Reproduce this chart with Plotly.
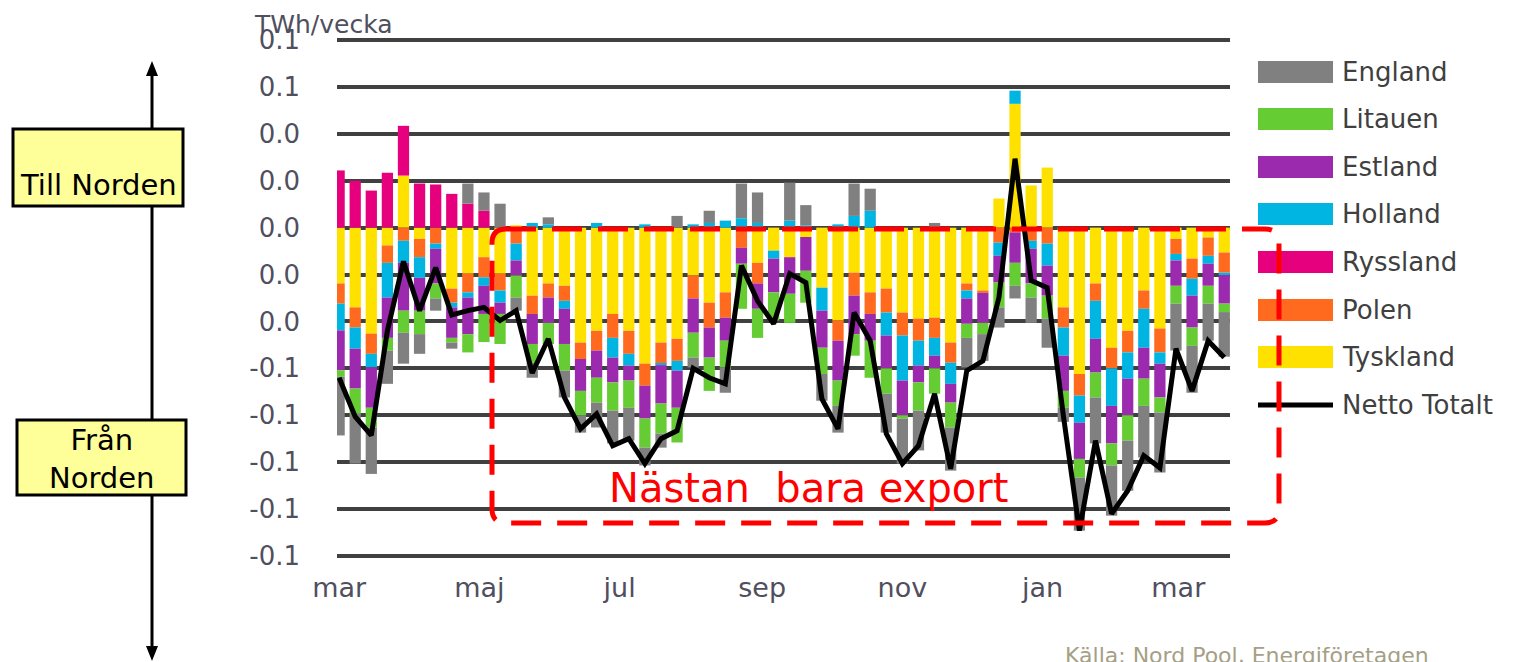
import plotly.graph_objects as go
import pandas as pd

# ---------------- data (TWh per week) ----------------
weeks = pd.date_range("2022-03-01", periods=56, freq="7D")

tyskland = [-0.0238, -0.0340, -0.0452, -0.0076, 0.0222, -0.0048, 0.0000, -0.0260, -0.0196, -0.0126,
            -0.0196, 0.0010, -0.0290, -0.0238, -0.0248, -0.0490, -0.0440, -0.0368, -0.0440, -0.0580,
            -0.0490, -0.0474, -0.0204, -0.0320, -0.0276, 0.0000, -0.0150, -0.0098, -0.0126, -0.0040,
            -0.0256, -0.0396, -0.0192, -0.0276, -0.0260, -0.0362, -0.0388, -0.0384, -0.0490, -0.0238,
            -0.0268, 0.0124, 0.0528, 0.0180, 0.0256, -0.0340, -0.0624, -0.0238, -0.0512, -0.0440,
            -0.0268, -0.0430, -0.0048, -0.0132, -0.0042, -0.0106]
polen = [-0.0086, -0.0086, -0.0086, -0.0074, -0.0056, -0.0078, -0.0068, -0.0060, -0.0080, -0.0086,
         -0.0072, -0.0068, -0.0078, -0.0060, -0.0064, -0.0070, -0.0084, -0.0102, -0.0098, -0.0094,
         -0.0090, -0.0094, -0.0098, -0.0106, -0.0108, -0.0086, -0.0088, 0.0000, 0.0000, 0.0000,
         0.0000, -0.0086, -0.0098, -0.0092, -0.0102, -0.0098, -0.0094, -0.0086, -0.0086, -0.0030,
         -0.0010, -0.0064, -0.0020, -0.0056, -0.0068, -0.0086, -0.0092, -0.0074, -0.0088, -0.0092,
         -0.0078, -0.0102, -0.0064, -0.0086, -0.0078, -0.0086]
ryssland = [0.0244, 0.0200, 0.0158, 0.0234, 0.0212, 0.0188, 0.0184, 0.0144, 0.0102, 0.0072,
            0.0, 0.0, 0.0, 0.0, 0.0, 0.0, 0.0, 0.0, 0.0, 0.0,
            0.0, 0.0, 0.0, 0.0, 0.0, 0.0, 0.0, 0.0, 0.0, 0.0,
            0.0, 0.0, 0.0, 0.0, 0.0, 0.0, 0.0, 0.0, 0.0, 0.0,
            0.0, 0.0, 0.0, 0.0, 0.0, 0.0, 0.0, 0.0, 0.0, 0.0,
            0.0, 0.0, 0.0, 0.0, 0.0, 0.0]
holland = [-0.0114, -0.0090, -0.0058, -0.0148, -0.0094, -0.0088, -0.0022, -0.0020, -0.0022, -0.0036,
           -0.0052, -0.0072, 0.0020, 0.0014, -0.0034, 0.0000, 0.0020, -0.0084, -0.0050, 0.0014,
           -0.0006, -0.0042, 0.0014, 0.0020, 0.0030, 0.0040, 0.0020, -0.0034, 0.0030, 0.0010,
           -0.0098, 0.0014, 0.0050, 0.0072, -0.0098, -0.0192, -0.0106, -0.0076, -0.0090, -0.0034,
           0.0000, -0.0056, 0.0056, -0.0034, -0.0094, -0.0120, -0.0116, -0.0162, -0.0160, -0.0112,
           -0.0166, -0.0048, -0.0028, -0.0072, -0.0034, -0.0010]
estland = [-0.0170, -0.0170, -0.0172, -0.0172, -0.0204, -0.0140, -0.0148, -0.0130, -0.0156, -0.0120,
           -0.0048, -0.0064, -0.0128, -0.0108, -0.0150, -0.0136, -0.0116, -0.0106, -0.0064, -0.0140,
           -0.0164, -0.0158, -0.0146, -0.0128, -0.0098, -0.0068, -0.0108, -0.0144, -0.0156, -0.0144,
           -0.0158, -0.0170, -0.0164, -0.0114, -0.0140, -0.0148, -0.0072, -0.0054, -0.0080, -0.0108,
           -0.0128, -0.0114, -0.0130, -0.0148, -0.0128, -0.0150, -0.0154, -0.0144, -0.0160, -0.0156,
           -0.0132, -0.0144, -0.0108, -0.0136, -0.0094, -0.0122]
litauen = [-0.0028, -0.0108, -0.0084, -0.0054, -0.0094, -0.0100, -0.0064, -0.0020, -0.0078, -0.0120,
           -0.0128, -0.0094, -0.0080, -0.0090, -0.0114, -0.0104, -0.0106, -0.0120, -0.0116, -0.0124,
           -0.0128, -0.0148, -0.0106, -0.0142, -0.0114, -0.0192, -0.0124, -0.0120, -0.0124, -0.0136,
           -0.0112, -0.0108, -0.0092, -0.0158, -0.0108, -0.0014, -0.0120, -0.0108, -0.0106, -0.0060,
           -0.0048, -0.0106, -0.0098, -0.0060, -0.0098, -0.0072, -0.0080, -0.0106, -0.0094, -0.0108,
           -0.0116, -0.0064, -0.0076, -0.0078, -0.0076, -0.0036]
england = [-0.0250, -0.0212, -0.0198, -0.0142, -0.0132, -0.0084, -0.0052, -0.0026, 0.0086, 0.0078,
           0.0102, -0.0056, -0.0064, 0.0030, -0.0114, -0.0074, -0.0106, -0.0140, -0.0140, -0.0076,
           -0.0060, 0.0050, -0.0042, 0.0052, -0.0108, 0.0148, 0.0130, 0.0000, 0.0162, 0.0086,
           -0.0114, -0.0114, 0.0138, 0.0094, -0.0166, -0.0192, -0.0170, 0.0020, -0.0184, -0.0126,
           -0.0114, -0.0086, -0.0054, -0.0108, -0.0124, -0.0060, -0.0226, -0.0196, -0.0214, -0.0214,
           -0.0220, -0.0256, -0.0200, -0.0200, -0.0158, -0.0190]
netto = [-0.0640, -0.0806, -0.0886, -0.0440, -0.0144, -0.0354, -0.0170, -0.0372, -0.0354, -0.0340,
         -0.0396, -0.0354, -0.0620, -0.0474, -0.0724, -0.0858, -0.0794, -0.0930, -0.0900, -0.1006,
         -0.0900, -0.0866, -0.0600, -0.0640, -0.0666, -0.0162, -0.0312, -0.0410, -0.0196, -0.0234,
         -0.0730, -0.0858, -0.0362, -0.0482, -0.0878, -0.1006, -0.0930, -0.0708, -0.1028, -0.0610,
         -0.0568, -0.0298, 0.0294, -0.0226, -0.0256, -0.0800, -0.1292, -0.0908, -0.1220, -0.1122,
         -0.0972, -0.1024, -0.0516, -0.0696, -0.0482, -0.0554]

series_names = ["Tyskland", "Polen", "Ryssland", "Holland", "Estland", "Litauen", "England"]
series_values = [tyskland, polen, ryssland, holland, estland, litauen, england]
series_colors = ["#FFE100", "#FF6A1F", "#E6007E", "#00B5E2", "#9B2AAF", "#66CC33", "#808080"]
legend_order = ["England", "Litauen", "Estland", "Holland", "Ryssland", "Polen", "Tyskland"]

y_tick_vals = [-0.14, -0.12, -0.10, -0.08, -0.06, -0.04, -0.02, 0.0, 0.02, 0.04, 0.06, 0.08]
y_tick_text = ["-0.1", "-0.1", "-0.1", "-0.1", "-0.1", "0.0", "0.0", "0.0", "0.0", "0.0", "0.1", "0.1"]
x_tick_vals = ["2022-03-01", "2022-05-01", "2022-07-01", "2022-09-01", "2022-11-01", "2023-01-01", "2023-03-01"]
x_tick_text = ["mar", "maj", "jul", "sep", "nov", "jan", "mar"]

# ---------------- geometry (page pixels; page body has an 8px margin) ----------------
PAGE_W, PAGE_H = 1537, 662
OFF = 8
W, H = PAGE_W - OFF, PAGE_H - OFF
GRID_TOP_PX, GRID_BOT_PX = 40, 556          # page y of the 0.08 and -0.14 grid lines
L, R, T, B = 337, 1230, 36, 560               # plot area on the page
ppu = (GRID_BOT_PX - GRID_TOP_PX) / (y_tick_vals[-1] - y_tick_vals[0])
y_range = [y_tick_vals[0] - (B - GRID_BOT_PX) / ppu, y_tick_vals[-1] + (GRID_TOP_PX - T) / ppu]


def px(x):
    return (x - L) / (R - L)


def py(y):
    return (B - y) / (B - T)


TXT = "#4F4F5E"
FONT = "DejaVu Sans"

fig = go.Figure()
for name, vals, col in zip(series_names, series_values, series_colors):
    fig.add_trace(go.Bar(x=weeks, y=vals, name=name, marker=dict(color=col, line=dict(width=0)),
                         showlegend=False, hoverinfo="skip"))
fig.add_trace(go.Scatter(x=weeks, y=netto, name="Netto Totalt", mode="lines",
                         line=dict(color="black", width=5), showlegend=False, hoverinfo="skip"))

x_start = weeks[0] - pd.Timedelta(hours=22)
x_end = weeks[-1] + pd.Timedelta(hours=60)

fig.update_layout(
    width=W, height=H,
    margin=dict(l=L - OFF, r=PAGE_W - R, t=T - OFF, b=PAGE_H - B, pad=0),
    paper_bgcolor="white", plot_bgcolor="white",
    barmode="relative", bargap=0.3,
    showlegend=False,
    font=dict(family=FONT, color=TXT),
    xaxis=dict(type="date", range=[x_start, x_end], tickvals=x_tick_vals, ticktext=x_tick_text,
               showgrid=False, zeroline=False, showline=False, ticks="", automargin=False,
               tickfont=dict(size=27, color=TXT, family=FONT), ticklabelstandoff=9),
    yaxis=dict(range=y_range, tickvals=y_tick_vals, ticktext=y_tick_text,
               showgrid=True, gridcolor="#404040", gridwidth=4, zeroline=False, showline=False,
               ticks="", automargin=False, tickfont=dict(size=26, color=TXT, family=FONT),
               ticklabelstandoff=36),
)

shapes = []
annotations = []

# custom legend
legend_y = [72, 119, 167, 214, 262, 310, 357]
color_of = dict(zip(series_names, series_colors))
for name, yy in zip(legend_order, legend_y):
    shapes.append(dict(type="rect", xref="paper", yref="paper", x0=px(1258), x1=px(1333),
                       y0=py(yy + 11), y1=py(yy - 11), fillcolor=color_of[name], line=dict(width=0)))
    annotations.append(dict(text=name, xref="paper", yref="paper", x=px(1340), y=py(yy),
                            xanchor="left", yanchor="middle", showarrow=False,
                            font=dict(size=26, color="#404040", family=FONT)))
shapes.append(dict(type="line", xref="paper", yref="paper", x0=px(1258), x1=px(1333),
                   y0=py(405), y1=py(405), line=dict(color="black", width=5)))
annotations.append(dict(text="Netto Totalt", xref="paper", yref="paper", x=px(1340), y=py(405),
                        xanchor="left", yanchor="middle", showarrow=False,
                        font=dict(size=26, color="#404040", family=FONT)))

# red dashed rounded box
bx0, bx1, by0, by1, rr = 492, 1279, 229, 523, 14
pts = (f"M {px(bx0 + rr)},{py(by0)} L {px(bx1 - rr)},{py(by0)} "
       f"Q {px(bx1)},{py(by0)} {px(bx1)},{py(by0 + rr)} L {px(bx1)},{py(by1 - rr)} "
       f"Q {px(bx1)},{py(by1)} {px(bx1 - rr)},{py(by1)} L {px(bx0 + rr)},{py(by1)} "
       f"Q {px(bx0)},{py(by1)} {px(bx0)},{py(by1 - rr)} L {px(bx0)},{py(by0 + rr)} "
       f"Q {px(bx0)},{py(by0)} {px(bx0 + rr)},{py(by0)} Z")
shapes.append(dict(type="path", xref="paper", yref="paper", path=pts,
                   line=dict(color="#FF0000", width=5, dash="30px,16px")))
annotations.append(dict(text="Nästan  bara export", xref="paper", yref="paper", x=px(808), y=py(488),
                        xanchor="center", yanchor="middle", showarrow=False,
                        font=dict(size=40, color="#FF0000", family=FONT)))

# left double arrow and boxes
ax_x = 152
shapes.append(dict(type="line", xref="paper", yref="paper", x0=px(ax_x), x1=px(ax_x),
                   y0=py(70), y1=py(652), line=dict(color="black", width=3)))
shapes.append(dict(type="path", xref="paper", yref="paper",
                   path=f"M {px(ax_x)},{py(61)} L {px(ax_x - 6)},{py(76)} L {px(ax_x + 6)},{py(76)} Z",
                   fillcolor="black", line=dict(width=0)))
shapes.append(dict(type="path", xref="paper", yref="paper",
                   path=f"M {px(ax_x)},{py(661)} L {px(ax_x - 6)},{py(646)} L {px(ax_x + 6)},{py(646)} Z",
                   fillcolor="black", line=dict(width=0)))
shapes.append(dict(type="rect", xref="paper", yref="paper", x0=px(13), x1=px(183), y0=py(206), y1=py(129),
                   fillcolor="#FFFF99", line=dict(color="black", width=3)))
shapes.append(dict(type="rect", xref="paper", yref="paper", x0=px(17), x1=px(186), y0=py(495), y1=py(420),
                   fillcolor="#FFFF99", line=dict(color="black", width=3)))
annotations.append(dict(text="Till Norden", xref="paper", yref="paper", x=px(98), y=py(185),
                        xanchor="center", yanchor="middle", showarrow=False,
                        font=dict(size=29, color="black", family=FONT)))
annotations.append(dict(text="Från<br>Norden", xref="paper", yref="paper", x=px(101), y=py(459),
                        xanchor="center", yanchor="middle", showarrow=False,
                        font=dict(size=29, color="black", family=FONT)))

# axis unit and source
annotations.append(dict(text="TWh/vecka", xref="paper", yref="paper", x=px(252), y=py(24),
                        xanchor="left", yanchor="middle", showarrow=False,
                        font=dict(size=25, color=TXT, family=FONT)))
annotations.append(dict(text="Källa: Nord Pool, Energiföretagen", xref="paper", yref="paper",
                        x=px(1063), y=py(641), xanchor="left", yanchor="top", showarrow=False,
                        font=dict(size=22, color="#A59F85", family=FONT)))

fig.update_layout(shapes=shapes, annotations=annotations)
fig.write_html("out.html")
